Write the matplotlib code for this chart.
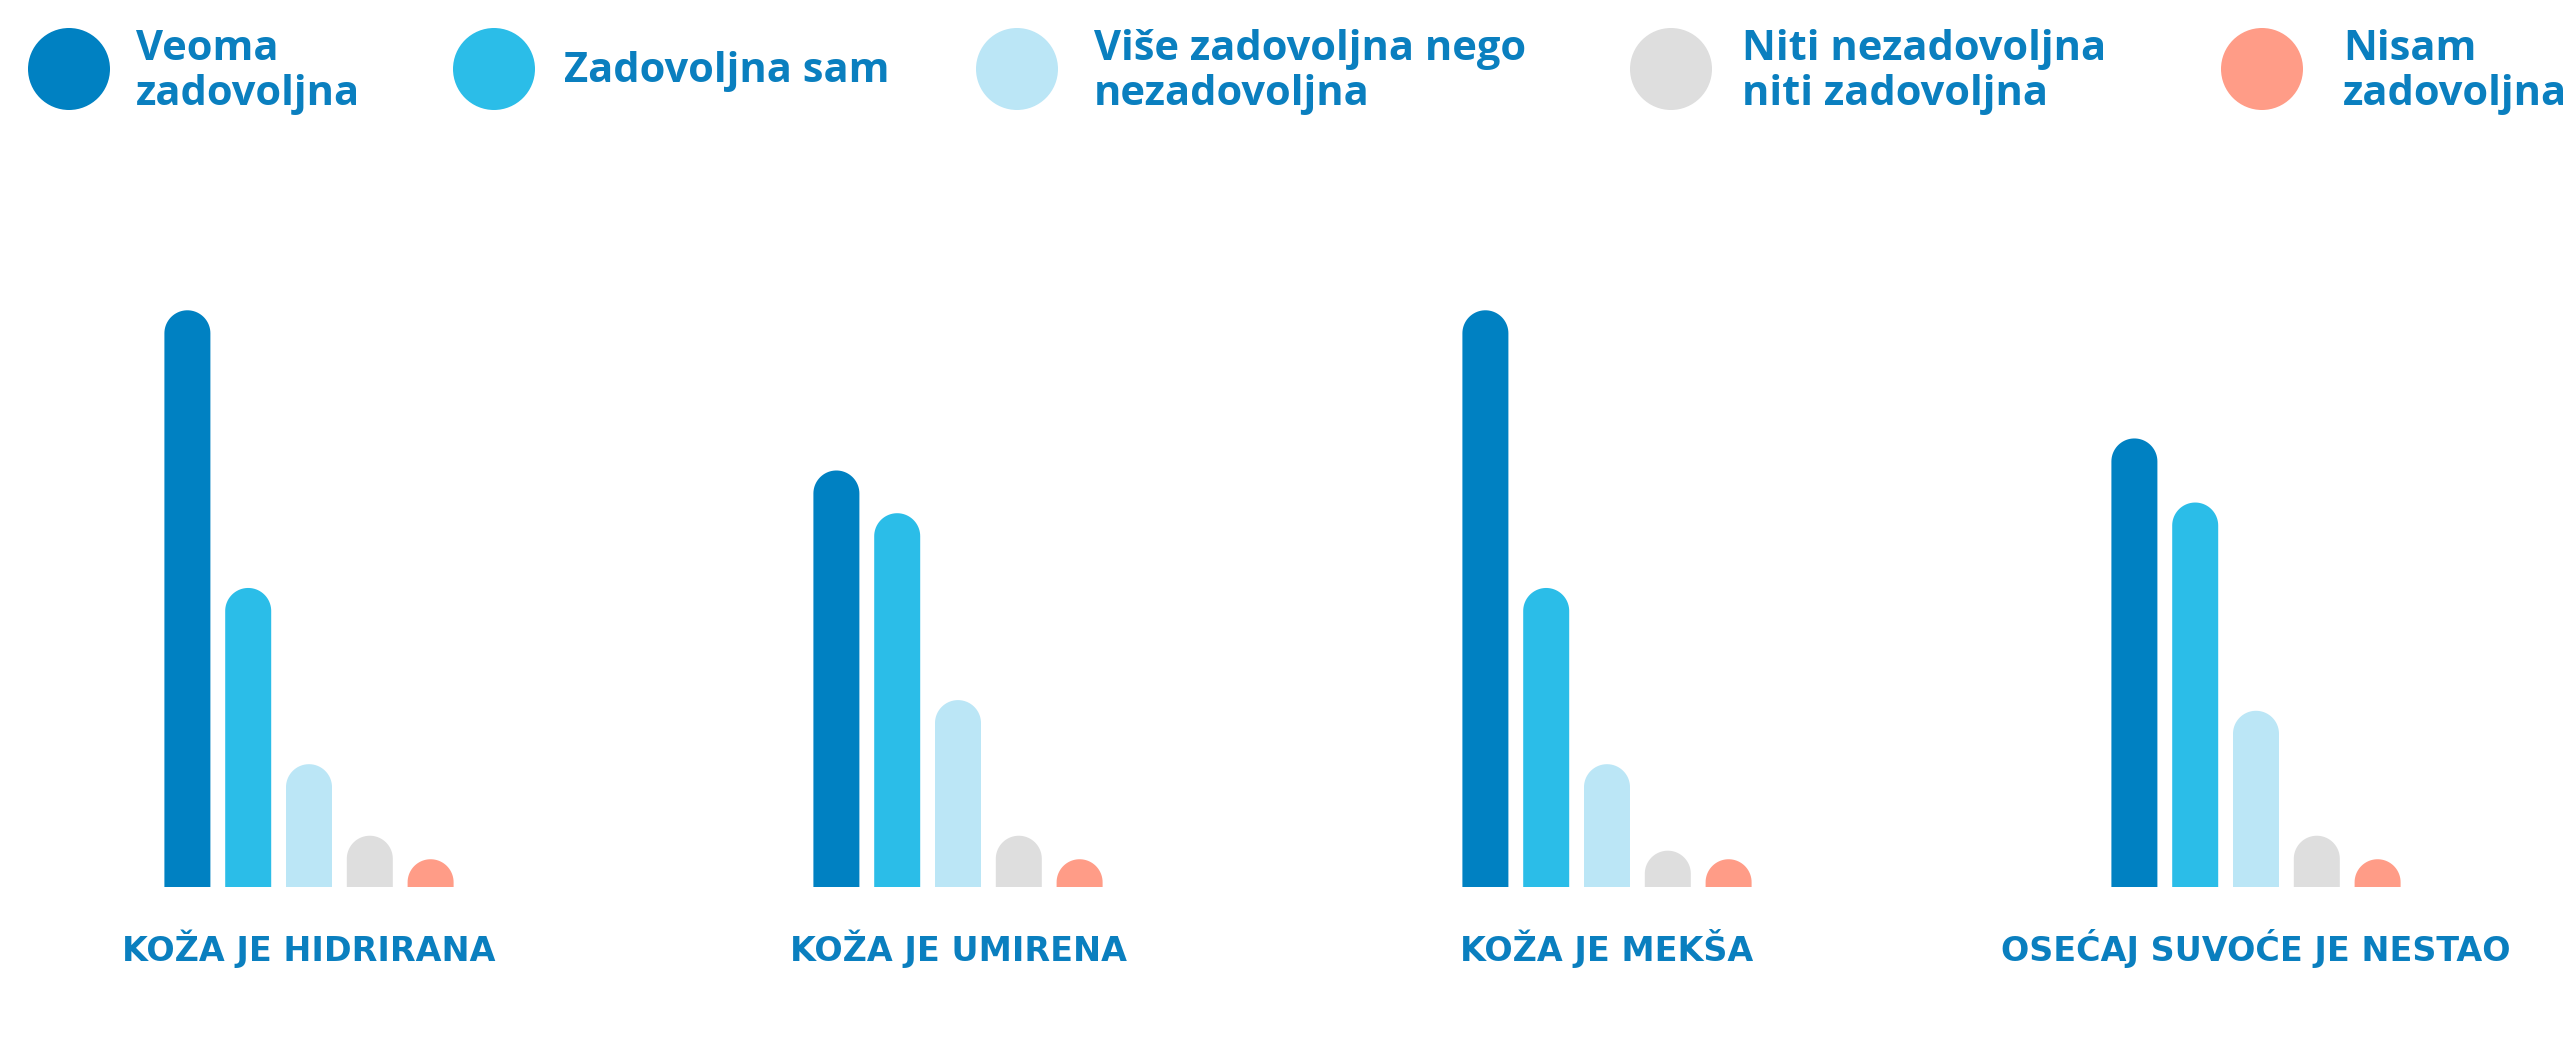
import matplotlib
matplotlib.use("Agg")
import matplotlib.pyplot as plt
from matplotlib.patches import Polygon, Circle
import numpy as np

# data (percent of answers)
groups = ["KOŽA JE HIDRIRANA", "KOŽA JE UMIRENA", "KOŽA JE MEKŠA", "OSEĆAJ SUVOĆE JE NESTAO"]
answers = ["Veoma\nzadovoljna", "Zadovoljna sam", "Više zadovoljna nego\nnezadovoljna",
           "Niti nezadovoljna\nniti zadovoljna", "Nisam\nzadovoljna"]
very_satisfied = [54, 39, 54, 42]
satisfied = [28, 35, 28, 36]
more_satisfied = [11.5, 17.5, 11.5, 16.5]
neutral = [4.8, 4.8, 3.4, 4.8]
not_satisfied = [2.6, 2.6, 2.6, 2.6]
series = [very_satisfied, satisfied, more_satisfied, neutral, not_satisfied]

colors = ["#0081c2", "#2bbde8", "#bbe6f6", "#dedede", "#ff9c87"]
text_col = "#0a7fbf"

W, H = 2576, 1042
fig = plt.figure(figsize=(W / 100, H / 100), dpi=100)

# bars axes: baseline at y=887 px, 10.68 px per percent, bar pitch 60.8 px
base_px = 887
top_px = 250
px_per_pct = 10.68
pitch = 60.8
grp_pitch = 649 / pitch
first_center = 309
ax = fig.add_axes([0, (H - base_px) / H, 1, (base_px - top_px) / H])
ax.set_xlim(-first_center / pitch, (W - first_center) / pitch)
ax.set_ylim(0, (base_px - top_px) / px_per_pct)
ax.axis("off")

bw = 46 / pitch
ry = (46 / 2) / px_per_pct
ang = np.linspace(np.pi, 0, 40)


def round_bar(x, v, col):
    body = max(v - ry, 0)
    arc = np.column_stack([x + bw / 2 * np.cos(ang), body + ry * np.sin(ang)])
    pts = np.vstack([[x - bw / 2, 0], arc, [x + bw / 2, 0]])
    ax.add_patch(Polygon(pts, closed=True, facecolor=col, edgecolor="none"))


for gi, g in enumerate(groups):
    for si, vals in enumerate(series):
        round_bar(gi * grp_pitch + (si - 2), vals[gi], colors[si])
    ax.text(gi * grp_pitch, -62 / px_per_pct, g, ha="center", va="center",
            fontsize=24, fontweight="bold", color=text_col, family="DejaVu Sans",
            clip_on=False)

# legend on a pixel overlay
ov = fig.add_axes([0, 0, 1, 1], zorder=-1)
ov.set_xlim(0, W)
ov.set_ylim(H, 0)
ov.axis("off")
circ_x = [69, 494, 1017, 1671, 2262]
text_x = [136, 564, 1094, 1742, 2343]
for i, lab in enumerate(answers):
    ov.add_patch(Circle((circ_x[i], 69), 41, color=colors[i], lw=0))
    ov.text(text_x[i], 72, lab, ha="left", va="center", fontsize=30,
            fontweight="bold", color=text_col, family="Open Sans",
            linespacing=1.15)

fig.savefig("out.png", dpi=100, facecolor="white")
